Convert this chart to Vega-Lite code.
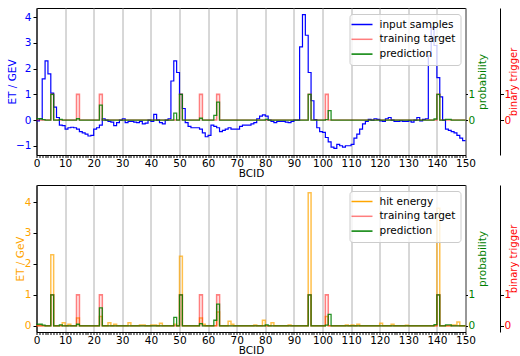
{
"$schema": "https://vega.github.io/schema/vega-lite/v6.json",
"padding": {"left": 6.5, "top": 7, "right": 0, "bottom": 0},
"config": {
 "font": "DejaVu Sans",
 "view": {"stroke": "black", "strokeWidth": 1},
 "axis": {"labelFontSize": 10.5, "titleFontSize": 10.5, "titleFontWeight": "normal", "labelColor": "black", "tickColor": "black", "domainColor": "black", "grid": false},
 "legend": {"orient": "top-right", "offset": 5.5, "labelFontSize": 10.5, "symbolType": "M-2.1,0H2.1", "symbolSize": 100, "symbolOffset": 2, "symbolStrokeWidth": 1.5, "fillColor": "rgba(255,255,255,0.8)", "strokeColor": "#cccccc", "cornerRadius": 3, "padding": 4.5, "rowPadding": 2.8, "labelOffset": 11.5}
},
"datasets": {"d": [
{"b":0,"i":-0.03,"h":0,"t":0,"p":0.05},{"b":1,"i":0.05,"h":0,"t":0,"p":0.05},{"b":2,"i":1.6,"h":0,"t":0,"p":0.02},{"b":3,"i":2.3,"h":0,"t":0,"p":0},{"b":4,"i":1.8,"h":0,"t":0,"p":0},
{"b":5,"i":1.05,"h":2.3,"t":1,"p":1},{"b":6,"i":0.5,"h":0,"t":0,"p":0},{"b":7,"i":0.1,"h":0,"t":0,"p":0},{"b":8,"i":-0.2,"h":0,"t":0,"p":0.03},{"b":9,"i":-0.22,"h":0.1,"t":0,"p":0},
{"b":10,"i":-0.35,"h":0,"t":0,"p":0},{"b":11,"i":-0.3,"h":0.05,"t":0,"p":0},{"b":12,"i":-0.28,"h":0,"t":0,"p":0},{"b":13,"i":-0.3,"h":0,"t":0,"p":0},{"b":14,"i":-0.35,"h":0.25,"t":1,"p":0.05},
{"b":15,"i":-0.45,"h":0,"t":0,"p":0},{"b":16,"i":-0.5,"h":0,"t":0,"p":0},{"b":17,"i":-0.55,"h":0,"t":0,"p":0},{"b":18,"i":-0.62,"h":0,"t":0,"p":0},{"b":19,"i":-0.6,"h":0,"t":0,"p":0},
{"b":20,"i":-0.35,"h":0,"t":0,"p":0},{"b":21,"i":-0.3,"h":0,"t":0,"p":0},{"b":22,"i":-0.2,"h":0.3,"t":1,"p":0.58},{"b":23,"i":0.05,"h":0,"t":0,"p":0},{"b":24,"i":0,"h":0,"t":0,"p":0},
{"b":25,"i":-0.05,"h":0.1,"t":0,"p":0},{"b":26,"i":-0.08,"h":0,"t":0,"p":0},{"b":27,"i":-0.22,"h":0.05,"t":0,"p":0},{"b":28,"i":-0.1,"h":0,"t":0,"p":0},{"b":29,"i":0,"h":0,"t":0,"p":0},
{"b":30,"i":0.05,"h":0,"t":0,"p":0},{"b":31,"i":-0.1,"h":0,"t":0,"p":0},{"b":32,"i":-0.05,"h":0.1,"t":0,"p":0},{"b":33,"i":-0.05,"h":0,"t":0,"p":0},{"b":34,"i":-0.08,"h":0,"t":0,"p":0},
{"b":35,"i":-0.1,"h":0,"t":0,"p":0},{"b":36,"i":-0.05,"h":0.03,"t":0,"p":0},{"b":37,"i":-0.15,"h":0.03,"t":0,"p":0},{"b":38,"i":-0.12,"h":0,"t":0,"p":0},{"b":39,"i":0,"h":0,"t":0,"p":0},
{"b":40,"i":-0.05,"h":0.03,"t":0,"p":0},{"b":41,"i":0.22,"h":0.03,"t":0,"p":0},{"b":42,"i":0,"h":0,"t":0,"p":0},{"b":43,"i":-0.1,"h":0.08,"t":0,"p":0},{"b":44,"i":-0.15,"h":0,"t":0,"p":0},
{"b":45,"i":0,"h":0,"t":0,"p":0},{"b":46,"i":0.05,"h":0,"t":0,"p":0},{"b":47,"i":1.52,"h":0,"t":0,"p":0},{"b":48,"i":2.3,"h":0.05,"t":0,"p":0.27},{"b":49,"i":1.85,"h":0,"t":0,"p":0},
{"b":50,"i":1,"h":2.25,"t":1,"p":1},{"b":51,"i":0.45,"h":0,"t":0,"p":0},{"b":52,"i":-0.1,"h":0,"t":0,"p":0},{"b":53,"i":-0.25,"h":0,"t":0,"p":0},{"b":54,"i":-0.3,"h":0,"t":0,"p":0},
{"b":55,"i":-0.3,"h":0,"t":0,"p":0},{"b":56,"i":-0.3,"h":0,"t":0,"p":0},{"b":57,"i":-0.35,"h":0.25,"t":1,"p":0.07},{"b":58,"i":-0.5,"h":0.05,"t":0,"p":0},{"b":59,"i":-0.65,"h":0,"t":0,"p":0},
{"b":60,"i":-0.6,"h":0,"t":0,"p":0},{"b":61,"i":-0.2,"h":0,"t":0,"p":0},{"b":62,"i":-0.25,"h":0,"t":0,"p":0.18},{"b":63,"i":-0.3,"h":0.45,"t":1,"p":0.7},{"b":64,"i":-0.45,"h":0,"t":0,"p":0},
{"b":65,"i":-0.4,"h":0,"t":0,"p":0},{"b":66,"i":-0.35,"h":0,"t":0,"p":0},{"b":67,"i":-0.3,"h":0.15,"t":0,"p":0},{"b":68,"i":-0.35,"h":0.05,"t":0,"p":0},{"b":69,"i":-0.35,"h":0,"t":0,"p":0},
{"b":70,"i":-0.35,"h":0,"t":0,"p":0},{"b":71,"i":-0.25,"h":0,"t":0,"p":0},{"b":72,"i":-0.2,"h":0,"t":0,"p":0},{"b":73,"i":-0.2,"h":0,"t":0,"p":0},{"b":74,"i":-0.2,"h":0,"t":0,"p":0},
{"b":75,"i":-0.15,"h":0,"t":0,"p":0},{"b":76,"i":-0.1,"h":0.03,"t":0,"p":0},{"b":77,"i":0.05,"h":0,"t":0,"p":0},{"b":78,"i":0.15,"h":0,"t":0,"p":0},{"b":79,"i":0.2,"h":0.18,"t":0,"p":0},
{"b":80,"i":0.15,"h":0,"t":0,"p":0.03},{"b":81,"i":0,"h":0,"t":0,"p":0},{"b":82,"i":-0.05,"h":0.1,"t":0,"p":0},{"b":83,"i":-0.1,"h":0,"t":0,"p":0},{"b":84,"i":-0.05,"h":0,"t":0,"p":0},
{"b":85,"i":-0.05,"h":0,"t":0,"p":0},{"b":86,"i":-0.05,"h":0,"t":0,"p":0},{"b":87,"i":-0.08,"h":0,"t":0,"p":0},{"b":88,"i":-0.1,"h":0.03,"t":0,"p":0},{"b":89,"i":-0.05,"h":0,"t":0,"p":0},
{"b":90,"i":0,"h":0,"t":0,"p":0},{"b":91,"i":0,"h":0,"t":0,"p":0},{"b":92,"i":2.85,"h":0,"t":0,"p":0},{"b":93,"i":4.1,"h":0,"t":0,"p":0},{"b":94,"i":3.3,"h":0,"t":0,"p":0},
{"b":95,"i":1.85,"h":4.3,"t":1,"p":1},{"b":96,"i":0.75,"h":0,"t":0,"p":0},{"b":97,"i":0.02,"h":0,"t":0,"p":0},{"b":98,"i":-0.3,"h":0,"t":0,"p":0},{"b":99,"i":-0.45,"h":0,"t":0,"p":0},
{"b":100,"i":-0.48,"h":0,"t":0,"p":0},{"b":101,"i":-0.68,"h":0.3,"t":1,"p":0.02},{"b":102,"i":-0.85,"h":0,"t":0,"p":0.37},{"b":103,"i":-1.05,"h":0,"t":0,"p":0},{"b":104,"i":-1.1,"h":0,"t":0,"p":0},
{"b":105,"i":-0.95,"h":0,"t":0,"p":0},{"b":106,"i":-1,"h":0,"t":0,"p":0},{"b":107,"i":-1.05,"h":0,"t":0,"p":0},{"b":108,"i":-1,"h":0.03,"t":0,"p":0},{"b":109,"i":-1,"h":0,"t":0,"p":0},
{"b":110,"i":-0.95,"h":0.03,"t":0,"p":0},{"b":111,"i":-0.7,"h":0,"t":0,"p":0},{"b":112,"i":-0.55,"h":0.05,"t":0,"p":0},{"b":113,"i":-0.35,"h":0,"t":0,"p":0},{"b":114,"i":-0.15,"h":0,"t":0,"p":0},
{"b":115,"i":-0.05,"h":0,"t":0,"p":0},{"b":116,"i":0.03,"h":0,"t":0,"p":0},{"b":117,"i":0,"h":0,"t":0,"p":0},{"b":118,"i":0.05,"h":0,"t":0,"p":0},{"b":119,"i":0.03,"h":0,"t":0,"p":0},
{"b":120,"i":-0.03,"h":0.08,"t":0,"p":0},{"b":121,"i":-0.05,"h":0,"t":0,"p":0},{"b":122,"i":0.05,"h":0,"t":0,"p":0},{"b":123,"i":0.1,"h":0,"t":0,"p":0},{"b":124,"i":0,"h":0.05,"t":0,"p":0},
{"b":125,"i":-0.05,"h":0,"t":0,"p":0},{"b":126,"i":-0.05,"h":0,"t":0,"p":0},{"b":127,"i":-0.03,"h":0,"t":0,"p":0},{"b":128,"i":-0.05,"h":0,"t":0,"p":0},{"b":129,"i":-0.05,"h":0.02,"t":0,"p":0},
{"b":130,"i":-0.03,"h":0,"t":0,"p":0},{"b":131,"i":-0.08,"h":0,"t":0,"p":0},{"b":132,"i":0,"h":0,"t":0,"p":0},{"b":133,"i":0.1,"h":0,"t":0,"p":0},{"b":134,"i":-0.03,"h":0,"t":0,"p":0},
{"b":135,"i":0.03,"h":0,"t":0,"p":0},{"b":136,"i":0.05,"h":0,"t":0,"p":0},{"b":137,"i":2.5,"h":0,"t":0,"p":0},{"b":138,"i":3.6,"h":0,"t":0,"p":0},{"b":139,"i":2.9,"h":0,"t":0,"p":0.04},
{"b":140,"i":1.65,"h":3.8,"t":1,"p":1},{"b":141,"i":0.9,"h":0,"t":0,"p":0},{"b":142,"i":0,"h":0,"t":0,"p":0},{"b":143,"i":-0.35,"h":0,"t":0,"p":0.03},{"b":144,"i":-0.4,"h":0,"t":0,"p":0.03},
{"b":145,"i":-0.45,"h":0.03,"t":0,"p":0},{"b":146,"i":-0.5,"h":0.03,"t":0,"p":0},{"b":147,"i":-0.6,"h":0.12,"t":0,"p":0},{"b":148,"i":-0.7,"h":0,"t":0,"p":0},{"b":149,"i":-0.8,"h":0,"t":0,"p":0},
{"b":150,"i":-0.8,"h":0,"t":0,"p":0}
]},
"resolve": {"scale": {"color": "independent"}},
"spacing": 4,
"vconcat": [
 {
  "width": 429, "height": 147,
  "data": {"name": "d"},
  "resolve": {"scale": {"y": "independent"}},
  "encoding": {
   "x": {"field": "b", "type": "quantitative", "scale": {"domain": [0, 150], "nice": false},
    "axis": {"title": "BCID", "values": [0,1,2,3,4,5,6,7,8,9,10,11,12,13,14,15,16,17,18,19,20,21,22,23,24,25,26,27,28,29,30,31,32,33,34,35,36,37,38,39,40,41,42,43,44,45,46,47,48,49,50,51,52,53,54,55,56,57,58,59,60,61,62,63,64,65,66,67,68,69,70,71,72,73,74,75,76,77,78,79,80,81,82,83,84,85,86,87,88,89,90,91,92,93,94,95,96,97,98,99,100,101,102,103,104,105,106,107,108,109,110,111,112,113,114,115,116,117,118,119,120,121,122,123,124,125,126,127,128,129,130,131,132,133,134,135,136,137,138,139,140,141,142,143,144,145,146,147,148,149,150],
     "labelExpr": "datum.value % 10 == 0 ? datum.label : ''", "labelOverlap": false, "labelFlush": false, "labelBound": false,
     "grid": true, "gridColor": "#b0b0b0", "gridOpacity": {"condition": {"test": "datum.value % 10 == 0", "value": 1}, "value": 0},
     "tickSize": 2.5, "labelPadding": 1, "titlePadding": -0.5}}
  },
  "layer": [
   {"mark": {"type": "line", "interpolate": "step-after", "strokeWidth": 1.2},
    "encoding": {
     "y": {"field": "i", "type": "quantitative", "scale": {"domain": [-1.36, 4.36], "nice": false, "zero": false},
      "axis": {"title": "ET / GEV", "values": [-1, 0, 1, 2, 3, 4], "labelColor": "blue", "titleColor": "blue", "tickSize": 3.5, "labelPadding": 2, "titlePadding": -1.5}},
     "color": {"datum": "input samples", "type": "nominal", "scale": {"domain": ["input samples", "training target", "prediction"], "range": ["blue", "red", "green"]},
      "legend": {"title": null, "encode": {"symbols": {"update": {"opacity": {"signal": "datum.value === 'training target' ? 0.5 : 1"}}}}}}
    }},
   {"mark": {"type": "line", "interpolate": "step-after", "strokeWidth": 1.6, "strokeOpacity": 0.5},
    "encoding": {
     "y": {"field": "t", "type": "quantitative", "scale": {"domain": [-1.36, 4.36], "nice": false, "zero": false},
      "axis": {"orient": "right", "offset": 34.5, "title": "binary trigger", "values": [0, 1], "labelColor": "red", "titleColor": "red", "titleFontSize": 10, "tickSize": 3.5, "labelPadding": 0.5, "titlePadding": -2, "titleAngle": 270, "titleBaseline": "top"}},
     "color": {"datum": "training target", "type": "nominal", "scale": {"domain": ["input samples", "training target", "prediction"], "range": ["blue", "red", "green"]}, "legend": {"title": null}}
    }},
   {"mark": {"type": "line", "interpolate": "step-after", "strokeWidth": 1.3, "strokeOpacity": 0.85},
    "encoding": {
     "y": {"field": "p", "type": "quantitative", "scale": {"domain": [-1.36, 4.36], "nice": false, "zero": false},
      "axis": {"orient": "right", "offset": 0, "domain": false, "title": "probability", "values": [0, 1], "labelColor": "green", "titleColor": "green", "tickSize": 2, "labelPadding": 0.5, "titlePadding": 3, "titleAngle": 270, "titleBaseline": "top"}},
     "color": {"datum": "prediction", "type": "nominal", "scale": {"domain": ["input samples", "training target", "prediction"], "range": ["blue", "red", "green"]}, "legend": {"title": null}}
    }}
  ]
 },
 {
  "width": 429, "height": 147,
  "data": {"name": "d"},
  "resolve": {"scale": {"y": "independent"}},
  "encoding": {
   "x": {"field": "b", "type": "quantitative", "scale": {"domain": [0, 150], "nice": false},
    "axis": {"title": "BCID", "values": [0,1,2,3,4,5,6,7,8,9,10,11,12,13,14,15,16,17,18,19,20,21,22,23,24,25,26,27,28,29,30,31,32,33,34,35,36,37,38,39,40,41,42,43,44,45,46,47,48,49,50,51,52,53,54,55,56,57,58,59,60,61,62,63,64,65,66,67,68,69,70,71,72,73,74,75,76,77,78,79,80,81,82,83,84,85,86,87,88,89,90,91,92,93,94,95,96,97,98,99,100,101,102,103,104,105,106,107,108,109,110,111,112,113,114,115,116,117,118,119,120,121,122,123,124,125,126,127,128,129,130,131,132,133,134,135,136,137,138,139,140,141,142,143,144,145,146,147,148,149,150],
     "labelExpr": "datum.value % 10 == 0 ? datum.label : ''", "labelOverlap": false, "labelFlush": false, "labelBound": false,
     "grid": true, "gridColor": "#b0b0b0", "gridOpacity": {"condition": {"test": "datum.value % 10 == 0", "value": 1}, "value": 0},
     "tickSize": 2.5, "labelPadding": 1, "titlePadding": -0.5}}
  },
  "layer": [
   {"mark": {"type": "line", "interpolate": "step-after", "strokeWidth": 1.5, "strokeOpacity": 0.7},
    "encoding": {
     "y": {"field": "h", "type": "quantitative", "scale": {"domain": [-0.2, 4.55], "nice": false, "zero": false},
      "axis": {"title": "ET / GeV", "values": [0, 1, 2, 3, 4], "labelColor": "orange", "titleColor": "orange", "tickSize": 3.5, "labelPadding": 2, "titlePadding": -1.5}},
     "color": {"datum": "hit energy", "type": "nominal", "scale": {"domain": ["hit energy", "training target", "prediction"], "range": ["orange", "red", "green"]},
      "legend": {"title": null, "encode": {"symbols": {"update": {"opacity": {"signal": "datum.value === 'training target' ? 0.5 : 1"}}}}}}
    }},
   {"mark": {"type": "line", "interpolate": "step-after", "strokeWidth": 1.6, "strokeOpacity": 0.5},
    "encoding": {
     "y": {"field": "t", "type": "quantitative", "scale": {"domain": [-0.2, 4.55], "nice": false, "zero": false},
      "axis": {"orient": "right", "offset": 34.5, "title": "binary trigger", "values": [0, 1], "labelColor": "red", "titleColor": "red", "titleFontSize": 10, "tickSize": 3.5, "labelPadding": 0.5, "titlePadding": -2, "titleAngle": 270, "titleBaseline": "top"}},
     "color": {"datum": "training target", "type": "nominal", "scale": {"domain": ["hit energy", "training target", "prediction"], "range": ["orange", "red", "green"]}, "legend": {"title": null}}
    }},
   {"mark": {"type": "line", "interpolate": "step-after", "strokeWidth": 1.3, "strokeOpacity": 0.85},
    "encoding": {
     "y": {"field": "p", "type": "quantitative", "scale": {"domain": [-0.2, 4.55], "nice": false, "zero": false},
      "axis": {"orient": "right", "offset": 0, "domain": false, "title": "probability", "values": [0, 1], "labelColor": "green", "titleColor": "green", "tickSize": 2, "labelPadding": 0.5, "titlePadding": 3, "titleAngle": 270, "titleBaseline": "top"}},
     "color": {"datum": "prediction", "type": "nominal", "scale": {"domain": ["hit energy", "training target", "prediction"], "range": ["orange", "red", "green"]}, "legend": {"title": null}}
    }}
  ]
 }
]
}
